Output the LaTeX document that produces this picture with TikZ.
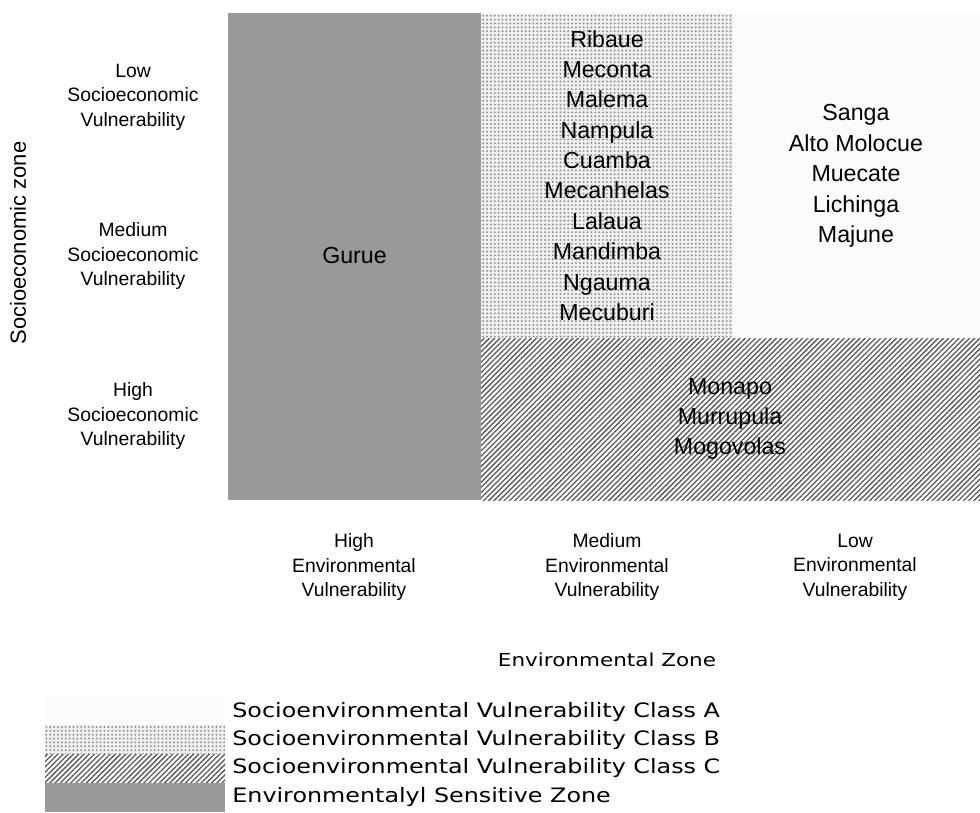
\documentclass[tikz,border=0pt]{standalone}
\usepackage{fontspec}
\setmainfont{Liberation Sans}
\newfontfamily\legendfont[FakeStretch=1.2]{DejaVu Sans}
\usetikzlibrary{patterns,patterns.meta}

\begin{document}
\begin{tikzpicture}[x=0.02cm, y=-0.02cm,
  axislabel/.style={align=center, font=\fontsize{11}{14}\selectfont},
  town/.style={align=center, font=\fontsize{13.2}{17.3}\selectfont},
  legendtext/.style={anchor=west, inner sep=0pt, font=\legendfont\fontsize{11.3}{13}\selectfont},
  sensitive/.style={fill=black!40},
  classA/.style={fill=black!1.5},
  classB/.style={fill=black!6, postaction={pattern={Dots[distance=2.2pt, radius=0.6pt]}, pattern color=black!45}},
  classC/.style={fill=white, postaction={pattern={Lines[angle=45, distance=2.1pt, line width=0.75pt]}, pattern color=black!65}}]
\useasboundingbox (0,0) rectangle (980,812);

% zones of the matrix
\fill[sensitive] (228,13) rectangle (481,500);
\path[classB] (481,13) rectangle (733,338);
\path[classA] (733,13) rectangle (980,338);
\path[classC] (481,338) rectangle (980,500);

% districts
\node[town] (gurue) at (354.5,256) {Gurue};
\node[town] (townsB) at (607,175.5) {Ribaue\\Meconta\\Malema\\Nampula\\Cuamba\\Mecanhelas\\Lalaua\\Mandimba\\Ngauma\\Mecuburi};
\node[town] (townsA) at (856,176) {Sanga\\Alto Molocue\\Muecate\\Lichinga\\Majune};
\node[town] (townsC) at (730,419) {Monapo\\Murrupula\\Mogovolas};

% axis labels
\node[axislabel] (lowsoc) at (133,97) {Low\\Socioeconomic\\Vulnerability};
\node[axislabel] (medsoc) at (133,256) {Medium\\Socioeconomic\\Vulnerability};
\node[axislabel] (highsoc) at (133,416) {High\\Socioeconomic\\Vulnerability};
\node[axislabel] (highenv) at (354,567) {High\\Environmental\\Vulnerability};
\node[axislabel] (medenv) at (607,567) {Medium\\Environmental\\Vulnerability};
\node[axislabel] (lowenv) at (855,567) {Low\\Environmental\\Vulnerability};
\node[rotate=90, font=\fontsize{12.5}{15}\selectfont] (soczone) at (18,243) {Socioeconomic zone};
\node[font=\legendfont\fontsize{10.2}{12}\selectfont] (envzone) at (607,660) {Environmental Zone};

% legend
\path[classA] (45,696) rectangle (225,725);
\path[classB] (45,725) rectangle (225,754);
\path[classC] (45,754) rectangle (225,783);
\fill[sensitive] (45,783) rectangle (225,812);
\node[legendtext] (legA) at (232,712) {Socioenvironmental Vulnerability Class A};
\node[legendtext] (legB) at (232,740) {Socioenvironmental Vulnerability Class B};
\node[legendtext] (legC) at (232,768) {Socioenvironmental Vulnerability Class C};
\node[legendtext] (legS) at (232,797) {Environmentalyl Sensitive Zone};
\end{tikzpicture}
\end{document}
